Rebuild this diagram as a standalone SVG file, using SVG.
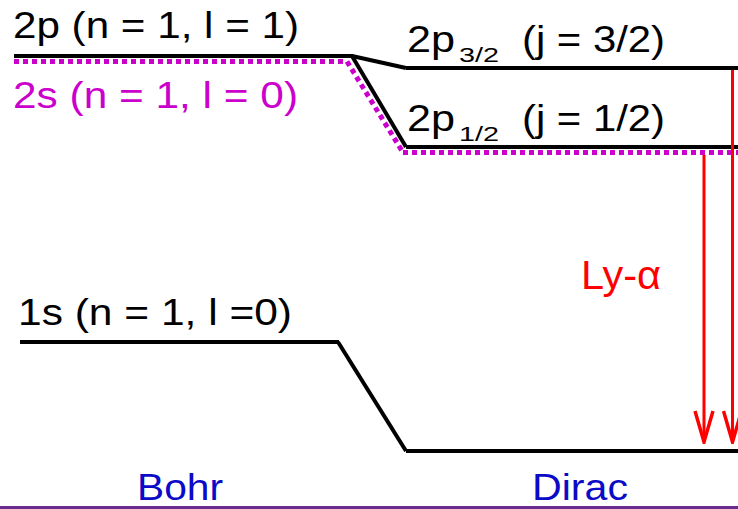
<svg xmlns="http://www.w3.org/2000/svg" width="738" height="509" viewBox="0 0 738 509">
  <style>
    text { font-family: "Liberation Sans", Arial, Helvetica, sans-serif; }
    .lvl { fill: none; stroke: #000; stroke-width: 4; stroke-linejoin: miter; }
    .dot { fill: none; stroke: #cc00cc; stroke-width: 5; stroke-dasharray: 5 4; }
    .blk { fill: #000; font-size: 36px; }
    .mag { fill: #cc00cc; font-size: 36px; }
    .big { fill: #000; font-size: 37px; }
    .sub { fill: #000; font-size: 21px; }
    .red { fill: none; stroke: #ff0000; stroke-width: 3; }
    .lab { fill: #0a0ac8; font-size: 36px; }
  </style>
  <defs>
    <marker id="vhead" viewBox="0 0 34 22" markerWidth="34" markerHeight="22" refX="32" refY="11" orient="auto" markerUnits="userSpaceOnUse">
      <path d="M1,2 L32,11 L1,20" fill="none" stroke="#ff0000" stroke-width="3.5"/>
    </marker>
  </defs>
  <rect width="738" height="509" fill="#fff"/>

  <g id="level-2s-bohr">
    <path class="dot" d="M14,61.5 H347"/>
    <text class="mag" x="13" y="108" textLength="285" lengthAdjust="spacingAndGlyphs">2s (n = 1, l = 0)</text>
  </g>
  <g id="level-2p-bohr">
    <path class="lvl" d="M14,56 H353"/>
    <text class="blk" x="13" y="38" textLength="286" lengthAdjust="spacingAndGlyphs">2p (n = 1, l = 1)</text>
  </g>
  <g id="level-1s-bohr">
    <path class="lvl" d="M20,342 H339"/>
    <text class="blk" x="18" y="325" textLength="274" lengthAdjust="spacingAndGlyphs">1s (n = 1, l =0)</text>
  </g>
  <g id="level-2p32-dirac">
    <path class="lvl" d="M406,68 H738"/>
    <text class="big" x="407" y="52" textLength="48" lengthAdjust="spacingAndGlyphs">2p</text>
    <text class="sub" x="459" y="62" textLength="40" lengthAdjust="spacingAndGlyphs">3/2</text>
    <text class="big" x="522" y="52" textLength="143" lengthAdjust="spacingAndGlyphs">(j = 3/2)</text>
  </g>
  <g id="level-2s12-dirac">
    <path class="dot" d="M403,152.5 H738"/>
  </g>
  <g id="level-2p12-dirac">
    <path class="lvl" d="M406,147 H738"/>
    <text class="big" x="407" y="131" textLength="48" lengthAdjust="spacingAndGlyphs">2p</text>
    <text class="sub" x="459" y="141" textLength="40" lengthAdjust="spacingAndGlyphs">1/2</text>
    <text class="big" x="522" y="131" textLength="143" lengthAdjust="spacingAndGlyphs">(j = 1/2)</text>
  </g>
  <g id="level-1s-dirac">
    <path class="lvl" d="M406,451 H738"/>
  </g>

  <g id="connectors">
    <path class="dot" d="M347,61.5 L403,152.5"/>
    <path class="lvl" d="M352,56 L406,68"/>
    <path class="lvl" d="M352,56 L406,147"/>
    <path class="lvl" d="M338,342 L406,451"/>
    <path class="red" d="M704,155 V442" marker-end="url(#vhead)"/>
    <path class="red" d="M732.5,70 V442" marker-end="url(#vhead)"/>
  </g>

  <text x="581" y="289" fill="#ff0000" font-size="40" textLength="80" lengthAdjust="spacingAndGlyphs">Ly-α</text>

  <g id="axis">
    <text class="lab" x="137" y="500" textLength="86" lengthAdjust="spacingAndGlyphs">Bohr</text>
    <text class="lab" x="532" y="500" textLength="96" lengthAdjust="spacingAndGlyphs">Dirac</text>
    <path d="M0,507.5 H738" stroke="#6b2c8f" stroke-width="3"/>
  </g>
</svg>
